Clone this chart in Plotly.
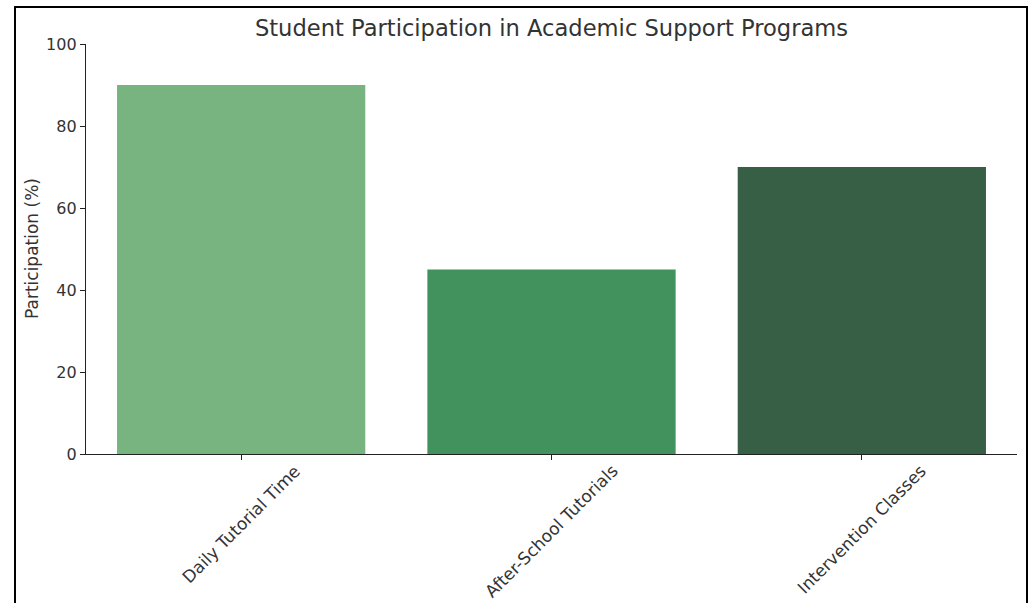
import plotly.graph_objects as go

# Participation by support program
programs = ["Daily Tutorial Time", "After-School Tutorials", "Intervention Classes"]
participation = [90, 45, 70]
bar_colors = ["#78b47f", "#42925d", "#365f46"]
y_ticks = [0, 20, 40, 60, 80, 100]

font_family = "DejaVu Sans, sans-serif"
text_color = "#333333"
axis_color = "#222222"

# Plot-area geometry in pixels
left, right, top, bottom = 86, 13, 44, 149
width, height = 1030, 603
plot_w = width - left - right
plot_h = height - top - bottom

fig = go.Figure(
    go.Bar(
        x=programs,
        y=participation,
        marker=dict(color=bar_colors, line=dict(width=0)),
        width=0.8,
    )
)

fig.update_layout(
    width=width,
    height=height,
    margin=dict(l=left, r=right, t=top, b=bottom),
    paper_bgcolor="white",
    plot_bgcolor="white",
    font=dict(family=font_family, size=16, color=text_color),
    title=dict(
        text="Student Participation in Academic Support Programs",
        x=0.5,
        xref="paper",
        xanchor="center",
        y=1 - 28 / height,
        yref="container",
        yanchor="middle",
        font=dict(size=22.6, color=text_color),
    ),
    showlegend=False,
)

fig.update_xaxes(
    range=[-0.5, 2.5],
    showline=True,
    linecolor=axis_color,
    linewidth=1.3,
    ticks="outside",
    ticklen=5,
    tickcolor=axis_color,
    showticklabels=False,
    showgrid=False,
    zeroline=False,
    automargin=False,
)
fig.update_yaxes(
    range=[0, 100],
    tickvals=y_ticks,
    showline=True,
    linecolor=axis_color,
    linewidth=1.3,
    ticks="outside",
    ticklen=5,
    tickcolor=axis_color,
    showgrid=False,
    zeroline=False,
    automargin=False,
    tickfont=dict(size=16, color=text_color),
)

# Category labels rotated 45 degrees, centred under each tick
for name in programs:
    fig.add_annotation(
        x=name,
        xref="x",
        y=0,
        yref="paper",
        yshift=-4,
        text=name,
        textangle=-45,
        xanchor="center",
        yanchor="top",
        showarrow=False,
        font=dict(size=17, color=text_color),
    )

# Y-axis title
fig.add_annotation(
    x=(32 - left) / plot_w,
    xref="paper",
    y=0.5,
    yref="paper",
    text="Participation (%)",
    textangle=-90,
    xanchor="center",
    yanchor="middle",
    showarrow=False,
    font=dict(size=17, color=text_color),
)

# Figure frame around the whole canvas
fig.add_shape(
    type="rect",
    xref="paper",
    yref="paper",
    x0=(15 - left) / plot_w,
    x1=(1027 - left) / plot_w,
    y0=(height - bottom - 640) / plot_h,
    y1=(height - bottom - 7) / plot_h,
    line=dict(color="black", width=2),
    fillcolor="rgba(0,0,0,0)",
    layer="above",
)

fig.write_html("out.html")
